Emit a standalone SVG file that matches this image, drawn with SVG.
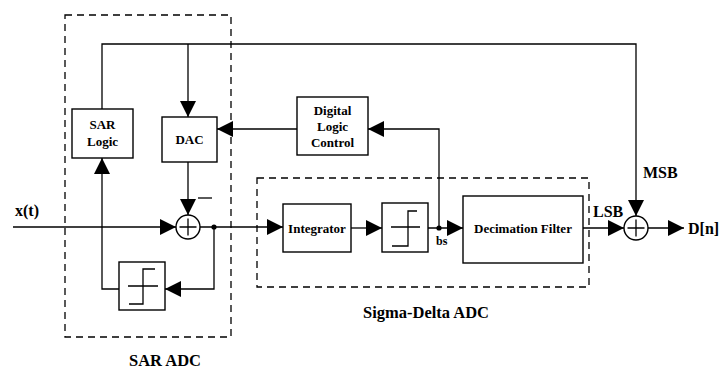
<svg xmlns="http://www.w3.org/2000/svg" width="721" height="372" viewBox="0 0 721 372">
<defs>
<marker id="arr" viewBox="0 0 16 16" markerWidth="16" markerHeight="16" refX="16" refY="8" orient="auto" markerUnits="userSpaceOnUse">
<path d="M0,0 L16,8 L0,16 z" fill="#000"/>
</marker>
</defs>
<style>
.box{fill:#fff;stroke:#000;stroke-width:1.4}
.dash{fill:none;stroke:#000;stroke-width:1.3;stroke-dasharray:7 5}
.ln{fill:none;stroke:#000;stroke-width:1.3}
.wire{fill:none;stroke:#000;stroke-width:1.3;marker-end:url(#arr)}
text{font-family:'Liberation Serif','Times New Roman',Times,Tinos,'Nimbus Roman','Nimbus Roman No9 L',FreeSerif,'Noto Serif','DejaVu Serif',serif;font-weight:bold;fill:#000}
.t{font-size:13px;text-anchor:middle}
.lb{font-size:16px}
</style>
<rect width="721" height="372" fill="#fff"/>
<g id="sar-adc-region">
<rect class="dash" x="65" y="15" width="166" height="322"/>
<text class="lb" x="165" y="366" text-anchor="middle" style="font-size:16.5px">SAR ADC</text>
</g>
<g id="sigma-delta-region">
<rect class="dash" x="257" y="178" width="332" height="109"/>
<text class="lb" x="363" y="318" style="font-size:16.5px">Sigma-Delta ADC</text>
</g>
<g id="connectors">
<path class="wire" d="M102,109 V44 H636 V216"/>
<path class="wire" d="M188,44 V117"/>
<path class="wire" d="M297,129 H217"/>
<path class="wire" d="M439,228 V129 H368"/>
<path class="wire" d="M188,162 V215"/>
<path class="wire" d="M13,227 H176"/>
<path class="wire" d="M200,227 H283"/>
<path class="wire" d="M214,227 V289 H165"/>
<path class="wire" d="M119,289 H102 V158"/>
<path class="wire" d="M351,228 H382"/>
<path class="wire" d="M428,228 H463"/>
<path class="wire" d="M583,228 H624"/>
<path class="wire" d="M648,228 H684"/>
<circle cx="214" cy="227" r="2.6" fill="#000"/>
<circle cx="439" cy="228" r="2.6" fill="#000"/>
</g>
<g id="sar-logic">
<rect class="box" x="72" y="109" width="61" height="49"/>
<text class="t" x="102.5" y="129">SAR</text>
<text class="t" x="102.5" y="146">Logic</text>
</g>
<g id="dac">
<rect class="box" x="162" y="117" width="55" height="45"/>
<text class="t" x="189.5" y="144">DAC</text>
</g>
<g id="digital-logic-control">
<rect class="box" x="297" y="97" width="71" height="58"/>
<text class="t" x="332.5" y="115">Digital</text>
<text class="t" x="332.5" y="131">Logic</text>
<text class="t" x="332.5" y="147">Control</text>
</g>
<g id="sum1">
<circle class="box" cx="188" cy="227" r="12"/>
<path class="ln" d="M179.5,227 H196.5 M188,218.5 V235.5"/>
<path class="ln" d="M198,198 H212"/>
</g>
<g id="sar-quantizer">
<rect class="box" x="119" y="262" width="46" height="48"/>
<path class="ln" d="M128,286 H158 M129,304 H143 V269 H155"/>
</g>
<g id="integrator">
<rect class="box" x="283" y="204" width="68" height="48"/>
<text class="t" x="317" y="233">Integrator</text>
</g>
<g id="sd-quantizer">
<rect class="box" x="382" y="203" width="46" height="49"/>
<path class="ln" d="M391,227 H420 M392,246 H408 V211 H417"/>
</g>
<g id="decimation-filter">
<rect class="box" x="463" y="196" width="120" height="67"/>
<text class="t" x="523" y="233">Decimation Filter</text>
</g>
<g id="sum2">
<circle class="box" cx="636" cy="228" r="12"/>
<path class="ln" d="M627.5,228 H644.5 M636,219.5 V236.5"/>
</g>
<g id="labels">
<text class="lb" x="15" y="216">x(t)</text>
<text class="lb" x="643" y="178">MSB</text>
<text class="lb" x="593" y="217">LSB</text>
<text class="lb" x="688" y="234">D[n]</text>
<text class="lb" x="436" y="245" style="font-size:12px">bs</text>
</g>
</svg>
